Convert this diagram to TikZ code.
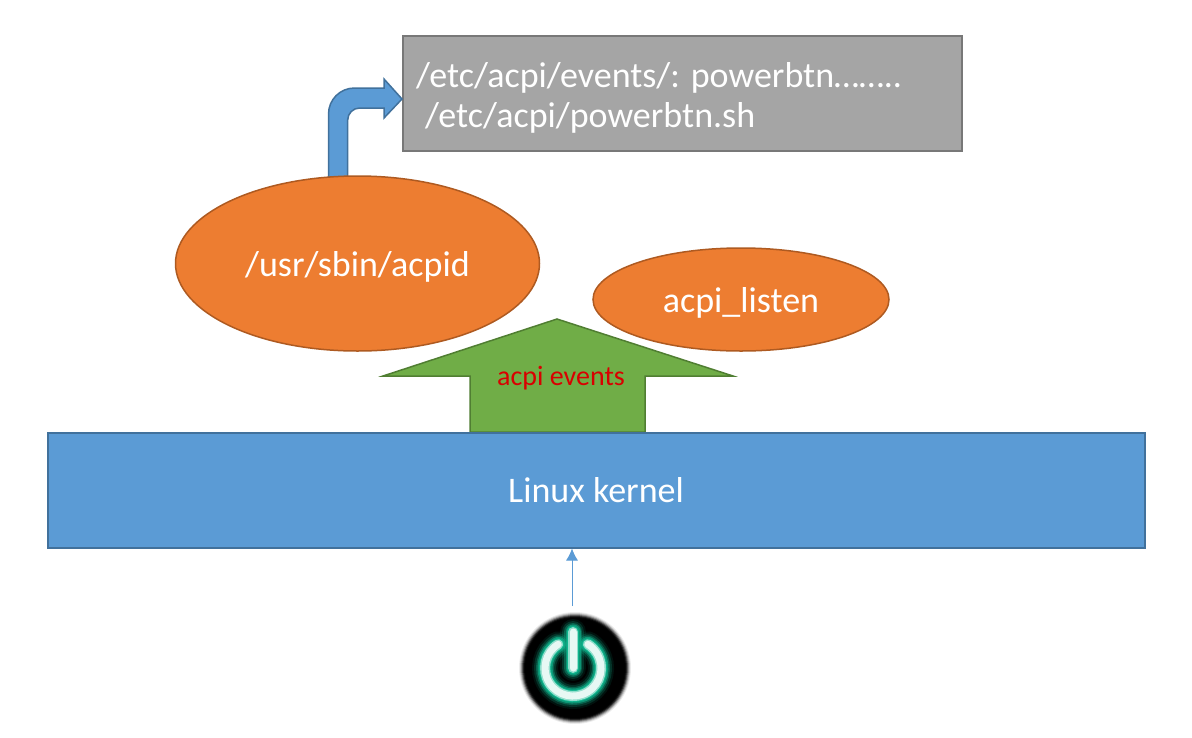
\documentclass[tikz,border=0pt]{standalone}
\usepackage{fontspec}
\setmainfont{Carlito}
\definecolor{cblue}{HTML}{5B9BD5}
\definecolor{cblueD}{HTML}{41719C}
\definecolor{corange}{HTML}{ED7D31}
\definecolor{corangeD}{HTML}{AE5A21}
\definecolor{cgreen}{HTML}{70AD47}
\definecolor{cgreenD}{HTML}{507E32}
\definecolor{cgrey}{HTML}{A5A5A5}
\definecolor{cgreyD}{HTML}{787878}
\definecolor{cglow}{HTML}{10B890}
\usetikzlibrary{shapes.geometric,arrows.meta}
\tikzset{
  x=1pt,y=-1pt,
  boxblue/.style={draw=cblueD,fill=cblue,line width=2pt,minimum width=1097pt,minimum height=115pt,inner sep=0pt,text=white,font=\fontsize{36}{40}\selectfont},
  boxgrey/.style={draw=cgreyD,fill=cgrey,line width=2pt,minimum width=559pt,minimum height=115pt,inner sep=0pt},
  greytext/.style={text=white,font=\fontsize{36}{40}\selectfont,inner sep=0pt,anchor=west},
  oval/.style={ellipse,draw=corangeD,fill=corange,line width=1.5pt,inner sep=0pt,text=white,text height=30pt,text depth=4pt,font=\fontsize{36}{40}\selectfont},
  fatarrow/.style={draw=cblueD,fill=cblue,line width=1.5pt,line join=miter},
  greenarrow/.style={draw=cgreenD,fill=cgreen,line width=1.5pt,line join=miter},
  thinarrow/.style={draw=cblue,line width=0.9pt,-{Latex[length=12pt,width=12pt]}}
}
\begin{document}
\begin{tikzpicture}
\useasboundingbox (0,0) rectangle (1192,737);
% grey box
\node[boxgrey] (grey) at (682.5,93.5) {};
\node[greytext] (l1) at (416,78) {/etc/acpi/events/: powerbtn……..};
\node[greytext] (l2) at (425,118) {/etc/acpi/powerbtn.sh};
% bent arrow
\draw[fatarrow] (328.5,177) -- (328.5,114) arc[start angle=180,end angle=270,radius=26] -- (384,88) -- (384,79) -- (402,99) -- (384,118) -- (384,108) -- (359.7,108) arc[start angle=270,end angle=180,radius=12] -- (347.7,177) -- cycle;
% ellipses
\node[oval,minimum width=364pt,minimum height=175pt] (acpid) at (357.5,263.5) {/usr/sbin/acpid};
\node[oval,minimum width=296pt,minimum height=103pt] (listen) at (741,299.5) {acpi\_listen};
% green arrow
\draw[greenarrow] (470,432) -- (470,376) -- (383,376) -- (557,319) -- (733,376) -- (645,376) -- (645,432) -- cycle;
\node[text=red!85!black,font=\fontsize{28}{32}\selectfont,inner sep=0pt] (ev) at (561,378) {acpi events};
% kernel
\node[boxblue] (kernel) at (596,490) {Linux kernel};
% power button
\coordinate (icon) at (572,606);
\foreach \r/\o in {56/0.08,55/0.15,54/0.25,53/0.4,52/0.6,51/0.8}{\fill[black,opacity=\o] (575,668) circle[radius=\r];}
\node[circle,fill=black,minimum size=100pt,inner sep=0pt] (btn) at (575,668) {};
\foreach \w/\o/\c in {26/0.1/cglow,22/0.2/cglow,18/0.35/cglow,15/0.6/cglow,12/0.9/cglow,10/1/white!55!cglow,7/1/white!90!cglow}{
  \draw[\c,opacity=\o,line width=\w pt,line cap=round] (558.2,644.3) arc[start angle=238,end angle=-58,radius=28];
  \draw[\c,opacity=\o,line width=\w pt,line cap=round] (573,632) -- (573,668);
}
\draw[thinarrow] (icon) -- (kernel.south -| icon);
\end{tikzpicture}
\end{document}
